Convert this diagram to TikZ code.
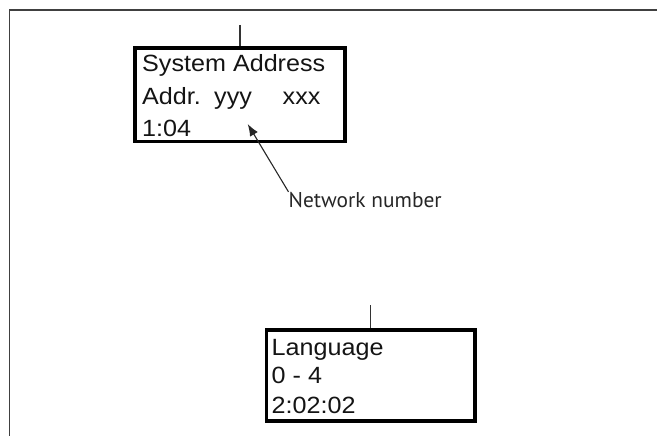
\documentclass[tikz,border=0pt]{standalone}
\usepackage{fontspec}
\setmainfont{Liberation Sans}
\newfontfamily\boxfont{Liberation Sans}[FakeStretch=1.07]
\newfontfamily\labelfont{PT Sans}
\usetikzlibrary{arrows.meta}
\begin{document}
\begin{tikzpicture}[x=1pt,y=-1pt,
  lcd/.style={draw=black,line width=3.5pt,rectangle,inner sep=0pt},
  lcdtext/.style={anchor=base west,inner sep=0pt,font=\boxfont\fontsize{23.5}{28}\selectfont,text=black!92},
  stub/.style={draw=black!80,line width=1.2pt},
  frameline/.style={draw=black!75,line width=1.6pt},
  callout/.style={draw=black!85,line width=1.1pt,-{Latex[length=12pt,width=9pt]}},
  lbl/.style={anchor=base west,inner sep=0pt,font=\labelfont\fontsize{21.4}{25}\selectfont,text=black!85}]
\useasboundingbox (0,0) rectangle (657,436);
% frame
\draw[frameline] (657,10) -- (9.5,10) -- (9.5,436);
% box 1
\node[lcd,minimum width=210pt,minimum height=93.5pt] (box1) at (240,94.75) {};
\coordinate (s1) at (240,25);
\draw[stub] (s1) -- (box1.north);
\node[lcdtext] (t11) at (142,72) {System Address};
\node[lcdtext] (t12) at (142,105) {Addr.};
\node[lcdtext] (t13) at (214,105) {yyy};
\node[lcdtext] (t14) at (282.5,105) {xxx};
\node[lcdtext] (t15) at (142,136) {1:04};
% callout
\node[lbl] (net) at (288.5,207.3) {Network number};
\coordinate (tip) at (247.7,124);
\draw[callout] (net.north west) -- (tip);
% box 2
\node[lcd,minimum width=208.5pt,minimum height=91pt] (box2) at (370.75,375.5) {};
\coordinate (s2) at (370.75,305);
\draw[stub] (s2) -- (box2.north);
\node[lcdtext] (t21) at (271.5,355) {Language};
\node[lcdtext] (t22) at (271.5,383.3) {0 - 4};
\node[lcdtext] (t23) at (271.5,413.3) {2:02:02};
\end{tikzpicture}
\end{document}
